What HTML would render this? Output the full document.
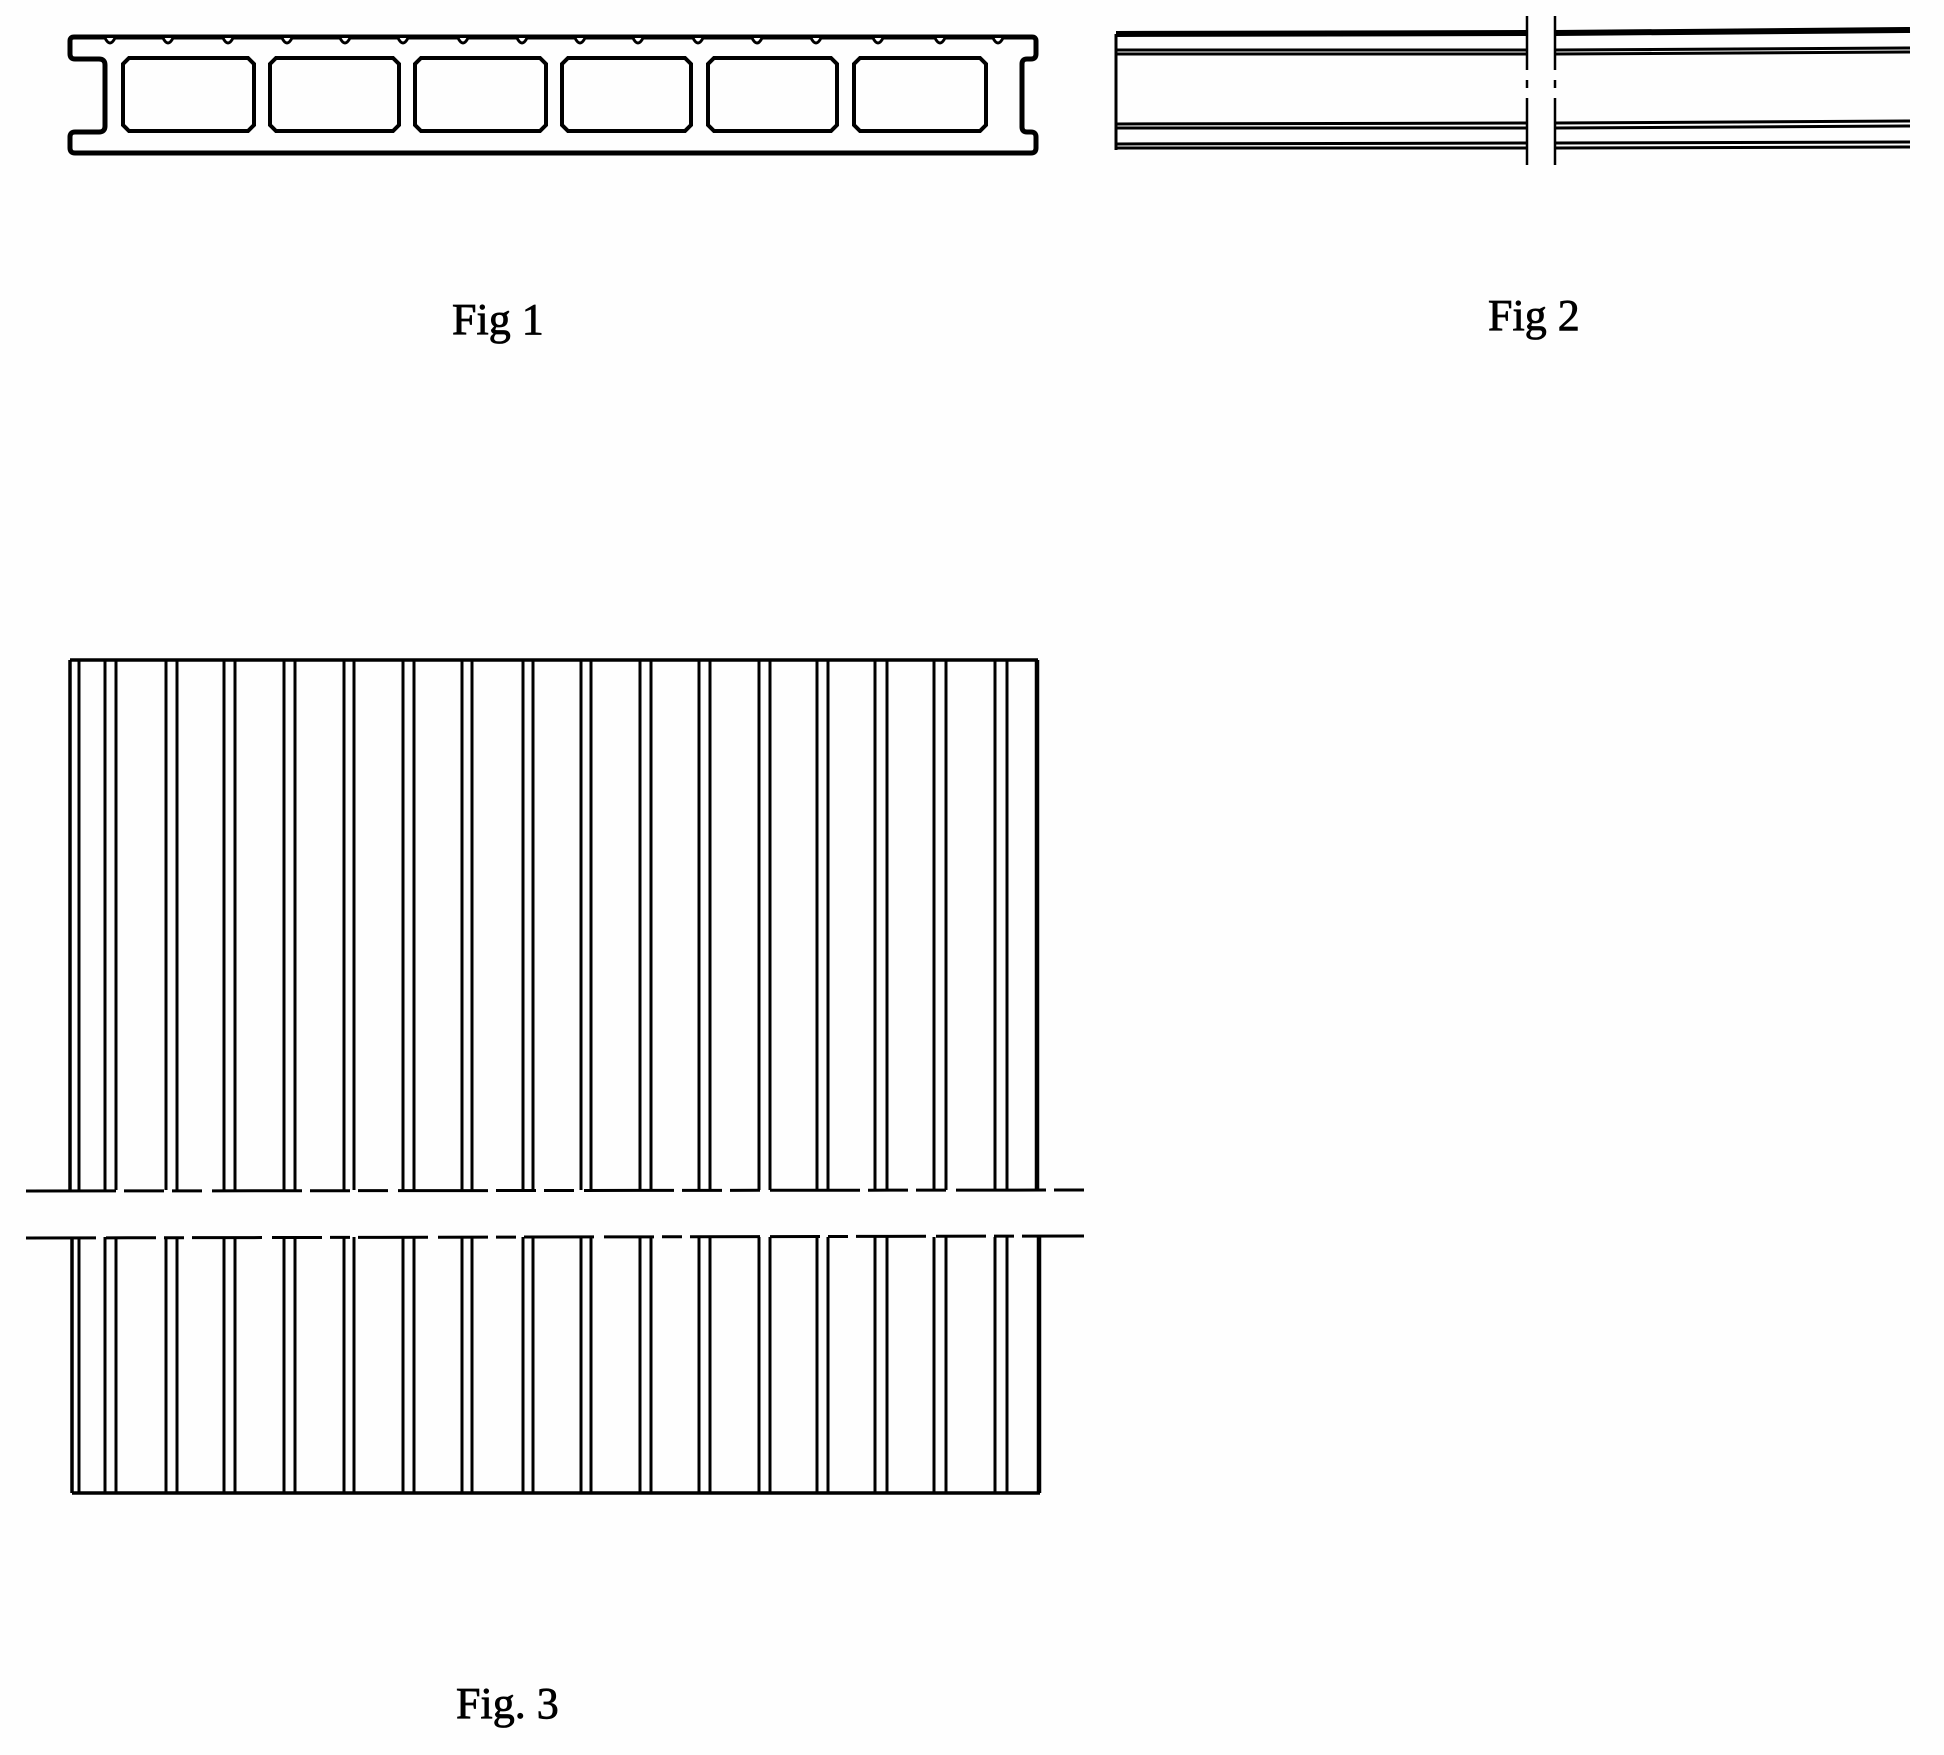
<!DOCTYPE html>
<html><head><meta charset="utf-8"><style>
html,body{margin:0;padding:0;background:#fff}
svg{display:block}
.t{font-family:"Liberation Serif",serif;fill:#000;stroke:#000;stroke-width:0.8}
</style></head><body>
<svg width="1944" height="1755" viewBox="0 0 1944 1755" xmlns="http://www.w3.org/2000/svg">
<rect width="1944" height="1755" fill="#fefefe"/>
<g fill="none" stroke="#000" stroke-width="5" stroke-linejoin="round">
<path d="M74,37 L1032,37 Q1036,37 1036,41 L1036,54 Q1036,59 1031,59 L1027,59 Q1022,59 1022,64 L1022,127 Q1022,132 1027,132 L1031,132 Q1036,132 1036,137 L1036,148 Q1036,153 1031,153 L75,153 Q70,153 70,148 L70,137 Q70,132 75,132 L99,132 Q105,132 105,126 L105,65 Q105,59 99,59 L75,59 Q70,59 70,54 L70,41 Q70,37 74,37 Z"/>
</g>
<g fill="#fff" stroke="#000" stroke-width="3">
<path d="M105,38 Q110,48 115,38 M163,38 Q168,48 173,38 M223,38 Q228,48 233,38 M282,38 Q287,48 292,38 M340,38 Q345,48 350,38 M398,38 Q403,48 408,38 M458,38 Q463,48 468,38 M517,38 Q522,48 527,38 M575,38 Q580,48 585,38 M633,38 Q638,48 643,38 M693,38 Q698,48 703,38 M752,38 Q757,48 762,38 M811,38 Q816,48 821,38 M873,38 Q878,48 883,38 M935,38 Q940,48 945,38 M993,38 Q998,48 1003,38"/>
</g>
<g fill="none" stroke="#000" stroke-width="4">
<path d="M129,58 L248,58 L254,64 L254,125 L248,131 L129,131 L123,125 L123,64 Z"/>
<path d="M276,58 L393,58 L399,64 L399,125 L393,131 L276,131 L270,125 L270,64 Z"/>
<path d="M421,58 L540,58 L546,64 L546,125 L540,131 L421,131 L415,125 L415,64 Z"/>
<path d="M568,58 L685,58 L691,64 L691,125 L685,131 L568,131 L562,125 L562,64 Z"/>
<path d="M714,58 L831,58 L837,64 L837,125 L831,131 L714,131 L708,125 L708,64 Z"/>
<path d="M860,58 L980,58 L986,64 L986,125 L980,131 L860,131 L854,125 L854,64 Z"/>
</g>
<text class="t" x="452" y="334" font-size="44">Fig 1</text>
<g stroke="#000" fill="none">
<path d="M1116,34 L1527,33 M1555,33 L1910,30" stroke-width="6"/>
<path d="M1116,50 L1527,50 M1555,50 L1910,48 M1116,54 L1527,54 M1555,54 L1910,52" stroke-width="3"/>
<path d="M1116,124 L1527,123 M1555,123 L1910,121 M1116,128 L1527,128 M1555,128 L1910,126" stroke-width="3"/>
<path d="M1116,144 L1527,143 M1555,143 L1910,142 M1116,148 L1527,148 M1555,148 L1910,147" stroke-width="3"/>
<path d="M1116,34 L1116,150" stroke-width="3"/>
<path d="M1527,16 L1527,70 M1527,80 L1527,88 M1527,98 L1527,165 M1555,16 L1555,70 M1555,80 L1555,88 M1555,98 L1555,165" stroke-width="2.5"/>
</g>
<text class="t" x="1488" y="330" font-size="44">Fig 2</text>
<g stroke="#000" fill="none" stroke-width="3">
<path d="M70,660 L1038,660" stroke-width="3.5"/>
<path d="M72,1493 L1040,1493" stroke-width="3.5"/>
<path d="M70,660 L70,1190 M72,1237 L72,1493" stroke-width="3.5"/>
<path d="M1037,660 L1037,1190 M1039,1237 L1039,1493" stroke-width="4.5"/>
<path d="M26,1191 L1084,1190" stroke-dasharray="90,8,40,8,30,10"/>
<path d="M26,1238 L1084,1236" stroke-dasharray="70,10,50,8,20,8"/>
<path d="M79,660V1190M105,660V1190M116,660V1190M166,660V1190M177,660V1190M224,660V1190M235,660V1190M284,660V1190M295,660V1190M344,660V1190M354,660V1190M403,660V1190M414,660V1190M462,660V1190M472,660V1190M523,660V1190M533,660V1190M581,660V1190M591,660V1190M640,660V1190M651,660V1190M699,660V1190M710,660V1190M759,660V1190M770,660V1190M817,660V1190M828,660V1190M875,660V1190M887,660V1190M934,660V1190M946,660V1190M995,660V1190M1007,660V1190"/>
<path d="M79,1237V1493M105,1237V1493M116,1237V1493M166,1237V1493M177,1237V1493M224,1237V1493M235,1237V1493M284,1237V1493M295,1237V1493M344,1237V1493M354,1237V1493M403,1237V1493M414,1237V1493M462,1237V1493M472,1237V1493M523,1237V1493M533,1237V1493M581,1237V1493M591,1237V1493M640,1237V1493M651,1237V1493M699,1237V1493M710,1237V1493M759,1237V1493M770,1237V1493M817,1237V1493M828,1237V1493M875,1237V1493M887,1237V1493M934,1237V1493M946,1237V1493M995,1237V1493M1007,1237V1493"/>
</g>
<text class="t" x="456" y="1718" font-size="44">Fig. 3</text>
</svg>
</body></html>
